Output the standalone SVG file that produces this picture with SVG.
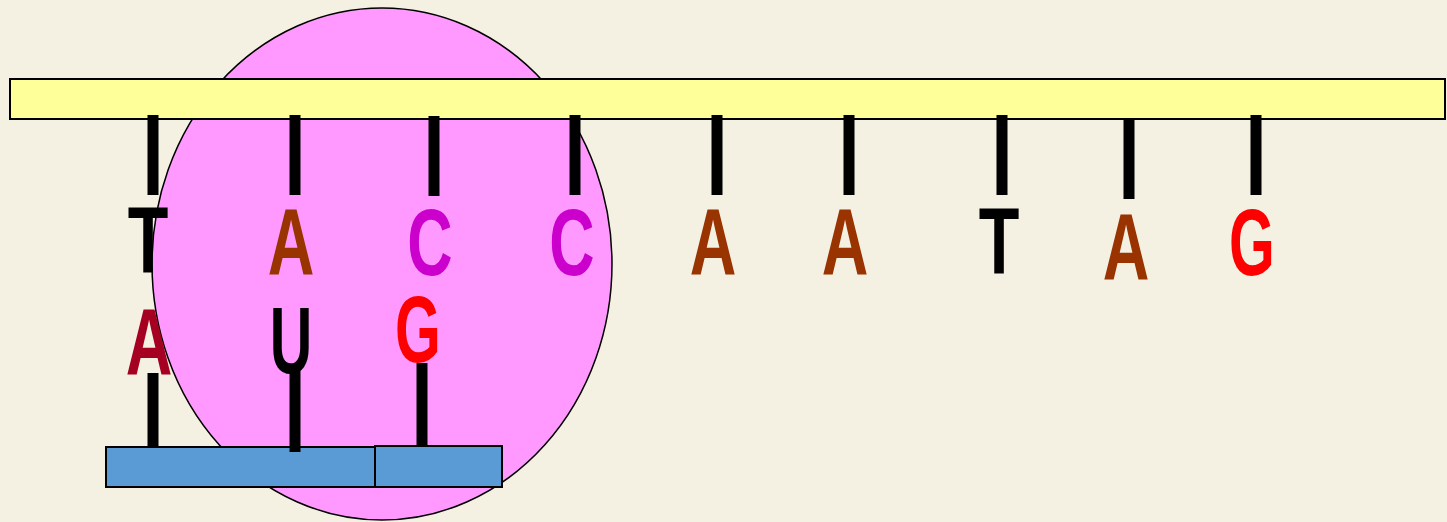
<svg xmlns="http://www.w3.org/2000/svg" width="1447" height="522" viewBox="0 0 1447 522">
<style>
.base{font-family:"Liberation Sans",Arial,sans-serif;font-weight:bold;font-size:95px;text-anchor:middle}
.tick{stroke:#000;stroke-width:11;fill:none}
.box{stroke:#000;stroke-width:2}
</style>
<rect x="0" y="0" width="1447" height="522" fill="#F4F1E2"/>
<g id="ribosome"><ellipse cx="382" cy="264" rx="230" ry="256" fill="#FF99FF" stroke="#000" stroke-width="1.5"/></g>
<g id="mrna"><rect class="box" x="10" y="79" width="1435" height="40" fill="#FFFF99"/></g>
<g id="trna">
<rect class="box" x="106" y="447" width="269" height="40" fill="#5B9BD5"/>
<rect class="box" x="375" y="446" width="127" height="41" fill="#5B9BD5"/>
</g>
<g id="connectors">
<line class="tick" x1="153" y1="115" x2="153" y2="195"/>
<line class="tick" x1="295" y1="115" x2="295" y2="195"/>
<line class="tick" x1="434" y1="116" x2="434" y2="196"/>
<line class="tick" x1="575" y1="115" x2="575" y2="195"/>
<line class="tick" x1="717" y1="115" x2="717" y2="195"/>
<line class="tick" x1="849" y1="115" x2="849" y2="195"/>
<line class="tick" x1="1002" y1="115" x2="1002" y2="195"/>
<line class="tick" x1="1129" y1="120" x2="1129" y2="199"/>
<line class="tick" x1="1256" y1="115" x2="1256" y2="195"/>
<line class="tick" x1="153" y1="373" x2="153" y2="447"/>
<line class="tick" x1="295" y1="370" x2="295" y2="452"/>
<line class="tick" x1="422" y1="363" x2="422" y2="445"/>
</g>
<g id="codons">
<text class="base" fill="#000" transform="translate(148,273) scale(0.7,1)">T</text>
<text class="base" fill="#993300" transform="translate(291,275) scale(0.68,1)">A</text>
<text class="base" fill="#CC00CC" transform="translate(430,275) scale(0.66,1)">C</text>
<text class="base" fill="#CC00CC" transform="translate(572,275) scale(0.66,1)">C</text>
<text class="base" fill="#993300" transform="translate(713,275) scale(0.68,1)">A</text>
<text class="base" fill="#993300" transform="translate(845,275) scale(0.68,1)">A</text>
<text class="base" fill="#000" transform="translate(999,274) scale(0.7,1)">T</text>
<text class="base" fill="#993300" transform="translate(1126,280) scale(0.68,1)">A</text>
<text class="base" fill="#FF0000" transform="translate(1252,275) scale(0.62,1)">G</text>
</g>
<g id="anticodons">
<text class="base" fill="#A50021" transform="translate(149,375) scale(0.68,1)">A</text>
<text class="base" fill="#000" transform="translate(291,373) scale(0.62,1)">U</text>
<text class="base" fill="#FF0000" transform="translate(418,362) scale(0.62,1)">G</text>
</g>
</svg>
